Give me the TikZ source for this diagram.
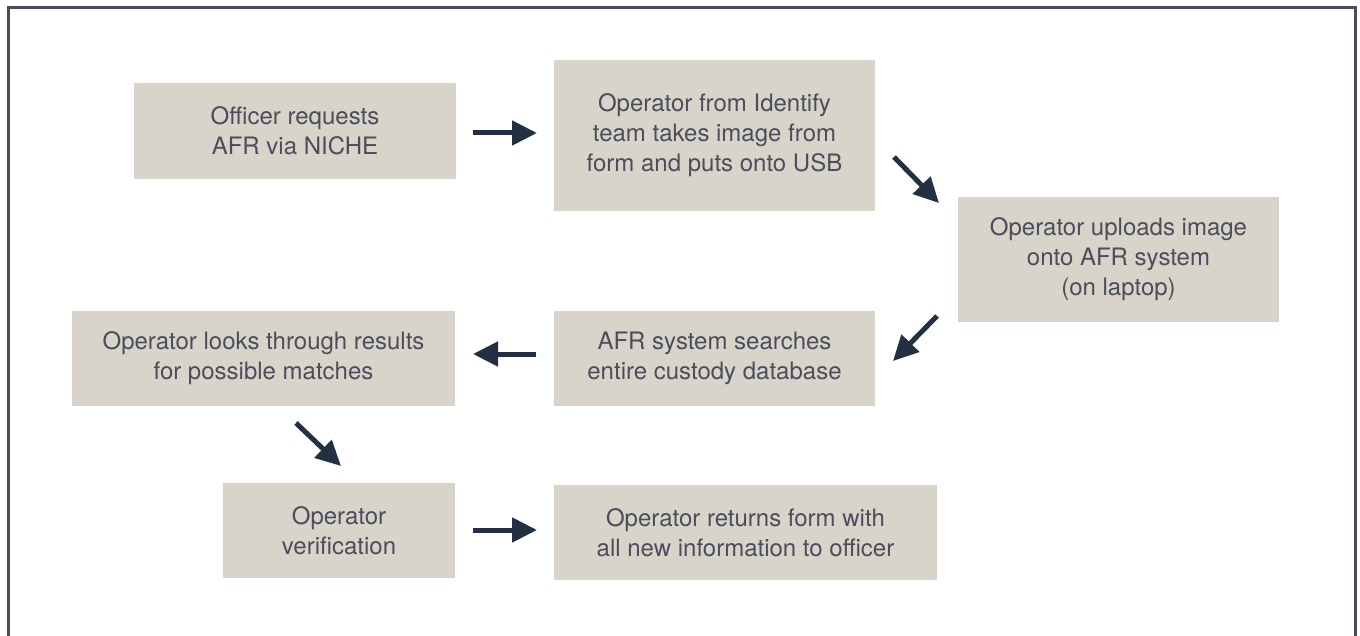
\documentclass[tikz,border=0pt]{standalone}
\usepackage{fontspec}
\setmainfont{TeX Gyre Heros}
\usetikzlibrary{arrows.meta}
\definecolor{boxfill}{HTML}{D8D4C9}
\definecolor{txtcol}{HTML}{4A4E5C}
\definecolor{arrcol}{HTML}{233044}
\definecolor{framecol}{HTML}{4A4D58}
\tikzset{
  stepbox/.style={fill=boxfill, draw=none, inner sep=0pt, text=txtcol, align=center,
    font=\fontsize{12pt}{15pt}\selectfont},
  flowarrow/.style={draw=arrcol, line width=2.5pt,
    -{Triangle[length=12.5pt,width=12pt]}}
}
\begin{document}
\begin{tikzpicture}[x=0.5pt,y=-0.5pt]
\useasboundingbox (0,0) rectangle (1360,636);
\draw[framecol, line width=1.5pt] (8,636) -- (8,8) -- (1355.5,8) -- (1355.5,636);
% boxes
\node[stepbox, minimum width=161pt, minimum height=48pt] (b1) at (295,131) {Officer requests\\AFR via NICHE};
\node[stepbox, minimum width=160.5pt, minimum height=75.5pt] (b2) at (714.5,135.5) {Operator from Identify\\team takes image from\\form and puts onto USB};
\node[stepbox, minimum width=160.5pt, minimum height=62.5pt] (b3) at (1118.5,259.5) {Operator uploads image\\onto AFR system\\(on laptop)};
\node[stepbox, minimum width=160.5pt, minimum height=47.5pt] (b4) at (714.5,358.5) {AFR system searches\\entire custody database};
\node[stepbox, minimum width=191.5pt, minimum height=47.5pt] (b5) at (263.5,358.5) {Operator looks through results\\for possible matches};
\node[stepbox, minimum width=116pt, minimum height=47.5pt] (b6) at (339,530.5) {Operator\\verification};
\node[stepbox, minimum width=191.5pt, minimum height=47.5pt] (b7) at (745.5,532.5) {Operator returns form with\\all new information to officer};
% arrow end points
\coordinate (a1s) at (473,133); \coordinate (a1e) at (537,133);
\coordinate (a2s) at (894,157); \coordinate (a2e) at (939,203);
\coordinate (a3s) at (937,316); \coordinate (a3e) at (893,361);
\coordinate (a4s) at (536,354); \coordinate (a4e) at (473,354);
\coordinate (a5s) at (296,423); \coordinate (a5e) at (341,466);
\coordinate (a6s) at (473,530); \coordinate (a6e) at (537,530);
\draw[flowarrow] (a1s) -- (a1e);
\draw[flowarrow] (a2s) -- (a2e);
\draw[flowarrow] (a3s) -- (a3e);
\draw[flowarrow] (a4s) -- (a4e);
\draw[flowarrow] (a5s) -- (a5e);
\draw[flowarrow] (a6s) -- (a6e);
\end{tikzpicture}
\end{document}
